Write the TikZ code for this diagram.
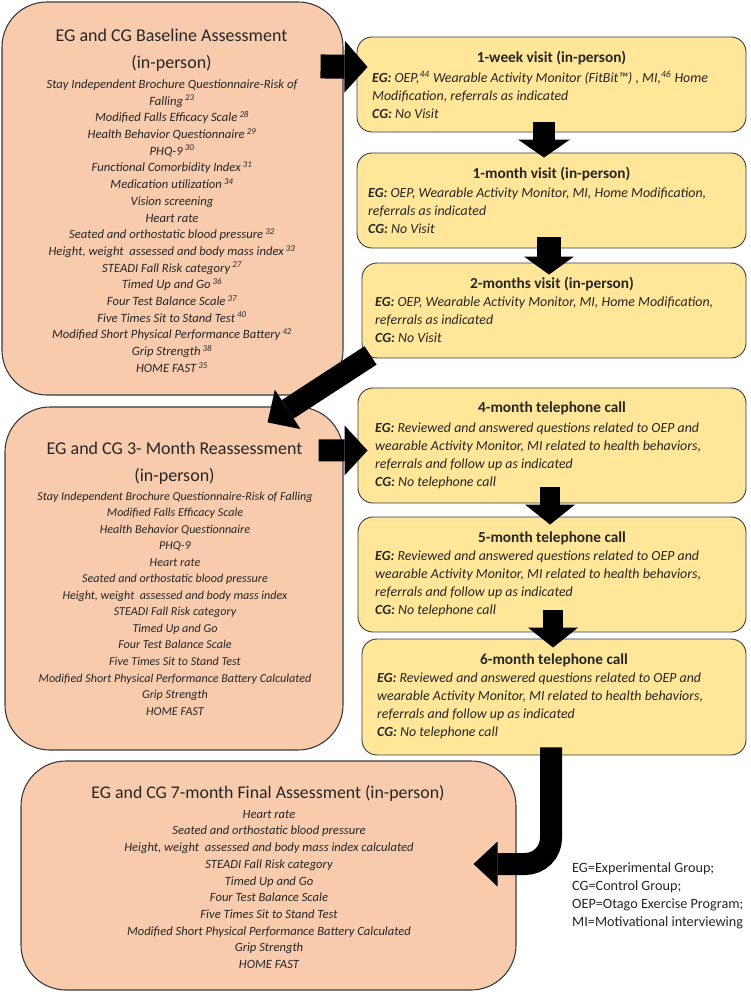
\documentclass[tikz,border=0pt]{standalone}
\usepackage{fontspec}
\setmainfont{Carlito}
\usetikzlibrary{arrows.meta,calc}
\definecolor{peach}{HTML}{F8CBAD}
\definecolor{gold}{HTML}{FFE699}
\definecolor{edge}{HTML}{3A3A3A}
\definecolor{ink}{HTML}{262626}
\tikzset{
  peachbox/.style={draw=edge, line width=1.1pt, fill=peach, rounded corners=45pt, inner sep=0pt},
  goldbox/.style={draw=edge, line width=0.9pt, fill=gold, rounded corners=15pt, inner sep=0pt},
  txt/.style={inner sep=0pt, text=ink, execute at begin node=\strut},
  ttl/.style={inner sep=0pt, text=ink, anchor=base},
  bigtitle/.style={font=\fontsize{18}{27}\selectfont},
  itemsA/.style={font=\fontsize{12.65}{16.7}\selectfont\itshape, align=center, anchor=north},
  body/.style={font=\fontsize{13.9}{18.2}\selectfont\itshape, align=left, anchor=north west},
  rtitle/.style={font=\fontsize{15.3}{18}\selectfont\bfseries},
  blockarrow/.style={draw=black, line width=#1},
}
\newcommand{\sps}[1]{\,\textsuperscript{#1}}
\newcommand{\eg}{\textbf{EG:}}
\newcommand{\cg}{\textbf{CG:}}
\begin{document}
\begin{tikzpicture}[x=1pt,y=-1pt]
\useasboundingbox (0,0) rectangle (750,992);

% ---------- boxes ----------
\node[peachbox, minimum width=341pt, minimum height=393pt] (A) at (172.5,198.5) {};
\node[peachbox, minimum width=338pt, minimum height=343pt] (B) at (174,578.5) {};
\node[peachbox, minimum width=495pt, minimum height=229pt] (C) at (268.5,875.5) {};

\node[goldbox, minimum width=389pt, minimum height=95pt]  (W1) at (551.5,84.5) {};
\node[goldbox, minimum width=389pt, minimum height=95pt]  (M1) at (551.5,200.5) {};
\node[goldbox, minimum width=384pt, minimum height=95pt]  (M2) at (554,310.5) {};
\node[goldbox, minimum width=388pt, minimum height=115pt] (T4) at (552,445.5) {};
\node[goldbox, minimum width=388pt, minimum height=115pt] (T5) at (552,574.5) {};
\node[goldbox, minimum width=384pt, minimum height=116pt] (T6) at (554,697) {};

% ---------- box A text ----------
\node[txt, bigtitle, align=center, anchor=north] (Atitle) at (171.5,29)
  {EG and CG Baseline Assessment\\(in-person)};
\node[txt, itemsA] (Aitems) at (172,79.5)
  {Stay Independent Brochure Questionnaire-Risk of\\
   Falling\sps{23}\\
   Modified Falls Efficacy Scale\sps{28}\\
   Health Behavior Questionnaire\sps{29}\\
   PHQ-9\sps{30}\\
   Functional Comorbidity Index\sps{31}\\
   Medication utilization\sps{34}\\
   Vision screening\\
   Heart rate\\
   Seated and orthostatic blood pressure\sps{32}\\
   Height, weight\ \ assessed and body mass index\sps{33}\\
   STEADI Fall Risk category\sps{27}\\
   Timed Up and Go\sps{36}\\
   Four Test Balance Scale\sps{37}\\
   Five Times Sit to Stand Test\sps{40}\\
   Modified Short Physical Performance Battery\sps{42}\\
   Grip Strength\sps{38}\\
   HOME FAST\sps{35}};

% ---------- box B text ----------
\node[txt, bigtitle, align=center, anchor=north] (Btitle) at (174.5,442)
  {EG and CG 3- Month Reassessment\\(in-person)};
\node[txt, itemsA, font=\fontsize{12.1}{16.54}\selectfont\itshape] (Bitems) at (175,491.5)
  {Stay Independent Brochure Questionnaire-Risk of Falling\\
   Modified Falls Efficacy Scale\\
   Health Behavior Questionnaire\\
   PHQ-9\\
   Heart rate\\
   Seated and orthostatic blood pressure\\
   Height, weight\ \ assessed and body mass index\\
   STEADI Fall Risk category\\
   Timed Up and Go\\
   Four Test Balance Scale\\
   Five Times Sit to Stand Test\\
   Modified Short Physical Performance Battery Calculated\\
   Grip Strength\\
   HOME FAST};

% ---------- box C text ----------
\node[ttl, font=\fontsize{17.8}{20}\selectfont] (Ctitle) at (268,798.5)
  {EG and CG 7-month Final Assessment (in-person)};
\node[txt, itemsA, font=\fontsize{12.6}{16.7}\selectfont\itshape] (Citems) at (269,810)
  {Heart rate\\
   Seated and orthostatic blood pressure\\
   Height, weight\ \ assessed and body mass index calculated\\
   STEADI Fall Risk category\\
   Timed Up and Go\\
   Four Test Balance Scale\\
   Five Times Sit to Stand Test\\
   Modified Short Physical Performance Battery Calculated\\
   Grip Strength\\
   HOME FAST};

% ---------- right boxes text ----------
\node[ttl, rtitle] (W1t) at (551.5,63) {1-week visit (in-person)};
\node[txt, body] (W1b) at (372,70.5)
  {\eg\ OEP,\textsuperscript{44} Wearable Activity Monitor (FitBit™) , MI,\textsuperscript{46} Home\\
   Modification, referrals as indicated\\
   \cg\ No Visit};

\node[ttl, rtitle] (M1t) at (551.5,178.5) {1-month visit (in-person)};
\node[txt, body] (M1b) at (368,187.5)
  {\eg\ OEP, Wearable Activity Monitor, MI, Home Modification,\\
   referrals as indicated\\
   \cg\ No Visit};

\node[ttl, rtitle] (M2t) at (552,288.5) {2-months visit (in-person)};
\node[txt, body] (M2b) at (375,296.5)
  {\eg\ OEP, Wearable Activity Monitor, MI, Home Modification,\\
   referrals as indicated\\
   \cg\ No Visit};

\node[ttl, rtitle] (T4t) at (552,412.5) {4-month telephone call};
\node[txt, body] (T4b) at (375,422.5)
  {\eg\ Reviewed and answered questions related to OEP and\\
   wearable Activity Monitor, MI related to health behaviors,\\
   referrals and follow up as indicated\\
   \cg\ No telephone call};

\node[ttl, rtitle] (T5t) at (552,542.5) {5-month telephone call};
\node[txt, body] (T5b) at (375,550.5)
  {\eg\ Reviewed and answered questions related to OEP and\\
   wearable Activity Monitor, MI related to health behaviors,\\
   referrals and follow up as indicated\\
   \cg\ No telephone call};

\node[ttl, rtitle] (T6t) at (554,664.5) {6-month telephone call};
\node[txt, body] (T6b) at (377,672.5)
  {\eg\ Reviewed and answered questions related to OEP and\\
   wearable Activity Monitor, MI related to health behaviors,\\
   referrals and follow up as indicated\\
   \cg\ No telephone call};

% ---------- legend ----------
\node[txt, font=\fontsize{14.2}{18}\selectfont, align=left, anchor=north west] (leg) at (572,862)
  {EG=Experimental Group;\\
   CG=Control Group;\\
   OEP=Otago Exercise Program;\\
   MI=Motivational interviewing};

% ---------- arrows ----------
\draw[blockarrow=24pt, -{Triangle[length=23pt,width=52pt,line width=0pt]}]
  ($(A.north east)+(-23,65)$) -- ($(W1.west)+(11,-17.5)$);
\draw[blockarrow=22pt, -{Triangle[length=18pt,width=52pt,line width=0pt]}]
  ($(W1.south)+(-7.5,-10)$) -- ($(M1.north)+(-7.5,5)$);
\draw[blockarrow=24pt, -{Triangle[length=18pt,width=50pt,line width=0pt]}]
  ($(M1.south)+(-2.5,-11)$) -- ($(M2.north)+(-5,12)$);
\draw[blockarrow=22pt, -{Triangle[length=24pt,width=47pt,line width=0pt]}]
  ($(M2.south west)+(9,-3)$) -- ($(B.north east)+(-76,16)$);
\draw[blockarrow=22pt, -{Triangle[length=23pt,width=50pt,line width=0pt]}]
  ($(B.north east)+(-25,44)$) -- ($(T4.west)+(10,5)$);
\draw[blockarrow=20pt, -{Triangle[length=20pt,width=50pt,line width=0pt]}]
  ($(T4.south)+(-2,-16)$) -- ($(T5.north)+(-2,8)$);
\draw[blockarrow=20pt, -{Triangle[length=20pt,width=50pt,line width=0pt]}]
  ($(T5.south)+(1,-22)$) -- ($(T6.north)+(-1,9)$);
\draw[blockarrow=22pt, rounded corners=26pt, -{Triangle[length=24pt,width=45pt,line width=0pt]}]
  ($(T6.south)+(-3,-8)$) |- ($(C.east)+(-43,-11.5)$);
\end{tikzpicture}
\end{document}
